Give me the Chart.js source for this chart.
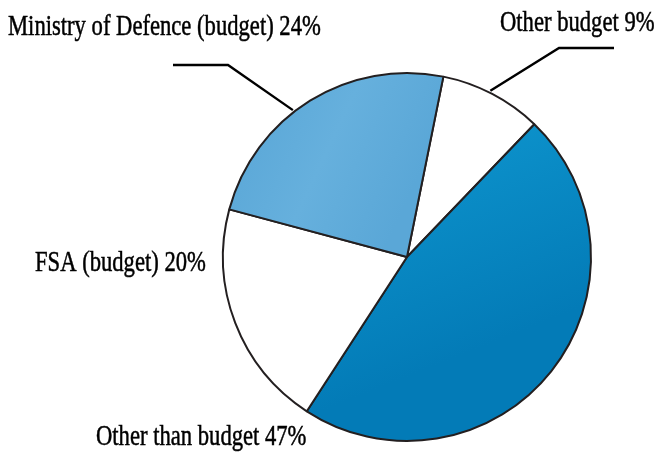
<!DOCTYPE html>
<html>
<head>
<meta charset="utf-8">
<script src="https://cdn.jsdelivr.net/npm/chart.js@4"></script>
<style>
  html, body { margin: 0; padding: 0; background: #fff; }
  #wrap { width: 657px; height: 452px; }
</style>
</head>
<body>
<div id="wrap"><canvas id="pie"></canvas></div>
<script>
// slices, clockwise from the top
const labels = ['Other budget', 'Other than budget', 'FSA (budget)', 'Ministry of Defence (budget)'];
const shares = [9, 47, 20, 24];

// where each label sits (left x, baseline y), where the leader leaves the arc, and its bends
const labelSpots = [
  { x: 500, y: 31, at: 0.47, leader: [[559, 48], [614, 48]] },
  { x: 96, y: 445, leader: null },
  { x: 35, y: 271, leader: null },
  { x: 8, y: 35, at: 0.43, leader: [[228, 65], [173, 65]] }
];

function sliceFill(ctx) {
  const chart = ctx.chart;
  const c = chart.ctx;
  const i = ctx.dataIndex;
  if (i === 0 || i === 2) return '#ffffff';
  const area = chart.chartArea;
  if (!area) return '#0a8ac4';
  if (i === 1) {
    const g = c.createLinearGradient(area.left + 220, area.top + 60, area.left + 300, area.top + 260);
    g.addColorStop(0, '#0d93cc');
    g.addColorStop(1, '#037bb7');
    return g;
  }
  const g = c.createLinearGradient(area.left + 20, area.top + 40, area.left + 190, area.top + 120);
  g.addColorStop(0, '#5aa7d7');
  g.addColorStop(0.5, '#66b0dd');
  g.addColorStop(1, '#5aa7d7');
  return g;
}

const labelPlugin = {
  id: 'sideLabels',
  afterDatasetsDraw(chart) {
    const c = chart.ctx;
    const arcs = chart.getDatasetMeta(0).data;
    c.save();
    c.fillStyle = '#000';
    c.strokeStyle = '#000';
    c.lineWidth = 2.4;
    c.font = '29px "Liberation Serif", serif';
    c.textBaseline = 'alphabetic';
    labelSpots.forEach((spot, i) => {
      const text = labels[i] + ' ' + shares[i] + '%';
      c.save();
      c.translate(spot.x, spot.y);
      c.scale(0.78, 1);
      c.lineWidth = 0.5;
      c.strokeText(text, 0, 0);
      c.fillText(text, 0, 0);
      c.restore();
      if (spot.leader) {
        const a = arcs[i];
        const ang = a.startAngle + (a.endAngle - a.startAngle) * spot.at;
        const r = a.outerRadius + 2;
        c.beginPath();
        c.moveTo(a.x + Math.cos(ang) * r, a.y + Math.sin(ang) * r);
        spot.leader.forEach(p => c.lineTo(p[0], p[1]));
        c.stroke();
      }
    });
    c.restore();
  }
};

new Chart(document.getElementById('pie'), {
  type: 'pie',
  data: {
    labels: labels,
    datasets: [{
      data: shares,
      backgroundColor: sliceFill,
      borderColor: '#231f20',
      borderWidth: 2
    }]
  },
  options: {
    responsive: true,
    maintainAspectRatio: false,
    animation: false,
    rotation: 11.4,
    layout: { padding: { left: 222, right: 65, top: 71, bottom: 9 } },
    plugins: {
      legend: { display: false },
      tooltip: { enabled: false }
    }
  },
  plugins: [labelPlugin]
});
</script>
</body>
</html>
